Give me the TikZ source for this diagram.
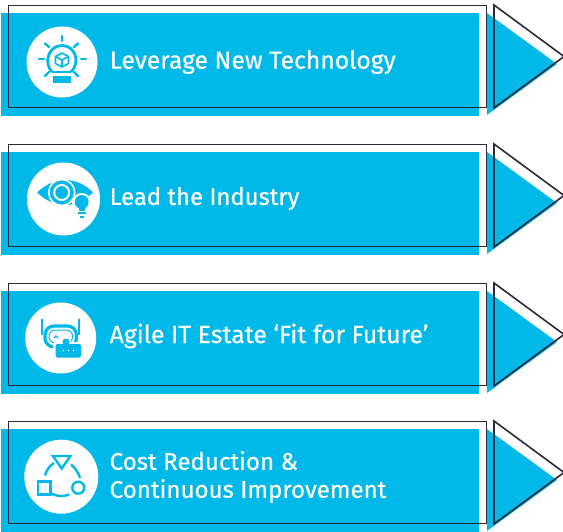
\documentclass[tikz,border=0pt]{standalone}
\usepackage{fontspec}
\setmainfont[FakeBold=0.35]{Fira Sans}
\usepackage{xcolor}
\usetikzlibrary{positioning,calc}
\definecolor{barblue}{HTML}{00B9E8}
\definecolor{framedark}{HTML}{2A2A3A}
\tikzset{
  bar/.style={fill=barblue,inner sep=0pt,minimum width=478pt,minimum height=103pt,anchor=north west},
  frame/.style={draw=framedark,line width=1.6pt,inner sep=0pt,outer sep=0pt,minimum width=478pt,minimum height=102pt,anchor=north west},
  badge/.style={circle,fill=white,inner sep=0pt},
  label/.style={text=white,anchor=west,inner sep=0pt,align=left},
  iconline/.style={draw=barblue,line width=2.4pt},
  iconthin/.style={draw=barblue,line width=1.6pt},
}
\newcommand{\labelsize}[1]{\fontsize{#1}{28}\selectfont}
\begin{document}
\begin{tikzpicture}[x=1pt,y=-1pt]
    \useasboundingbox (0,0) rectangle (563,532);
    % bars, outlines and arrow heads
    \foreach \i/\t in {1/13,2/152,3/291,4/429} {
      \node[bar] (bar\i) at (1,\t) {};
      \node[frame] (frame\i) at (8.5,\t-7.5) {};
      \fill[barblue] (487,\t) -- (487,\t+102) -- (557,\t+51) -- cycle;
      \draw[framedark,line width=1.6pt,line join=miter] (494,\t-8) -- (494,\t+95) -- (564,\t+43.5) -- cycle;
    }
    % badges
    \node[badge,minimum size=71pt] (badge1) at (62,62) {};
    \node[badge,minimum size=73pt] (badge2) at (63.5,199) {};
    \node[badge,minimum size=71pt] (badge3) at (60.7,338) {};
    \node[badge,minimum size=74pt] (badge4) at (61.3,476.7) {};
    % labels
    \node[label,font=\labelsize{24.7}] (text1) at (109.5,62) {Leverage New Technology};
    \node[label,font=\labelsize{23.9}] (text2) at (109.5,198.5) {Lead the Industry};
    \node[label,font=\labelsize{24.8}] (text3) at (109.5,336) {Agile IT Estate ‘Fit for Future’};
    \node[label,font=\labelsize{24.1}] (text4) at (109.5,477) {Cost Reduction \&\\Continuous Improvement};
    % icon 1: bulb and cube
    \draw[iconline,line width=2.8pt] (52,72) .. controls (43,62) and (49,45.5) .. (62,45.5) .. controls (75,45.5) and (81,62) .. (71,72);
    \draw[iconline,line width=2.8pt] (52,72) -- (71,72);
    \fill[barblue] (53,76) rectangle (71,83);
    \foreach \a/\b/\c/\d in {62/36/62/41,39/59/44/59,81/59/86/59,45/43.5/49/47,78/43.5/74/47,45/76/49/72,78/76/74/72} {
      \draw[iconline,line cap=round] (\a,\b) -- (\c,\d);
    }
    \draw[iconthin,line join=round] (62,53) -- (68.5,56.5) -- (68.5,63.5) -- (62,67) -- (55.5,63.5) -- (55.5,56.5) -- cycle;
    \draw[iconthin] (55.5,56.5) -- (62,60) -- (68.5,56.5) (62,60) -- (62,67);
    % icon 2: eye with small bulb
    \fill[barblue] (37,192.5) .. controls (46,184) and (56,180) .. (65,180) .. controls (76,180) and (86,185) .. (93,192.5) .. controls (86,200) and (76,205) .. (65,205) .. controls (56,205) and (46,201) .. cycle;
    \draw[white,line width=1.6pt] (61.7,192.5) circle[radius=13pt];
    \draw[white,line width=2pt] (61.7,192.5) circle[radius=7.5pt];
    \fill[white] (81.7,203) circle[radius=10pt];
    \fill[barblue] (81.7,202) circle[radius=7pt];
    \fill[barblue] (78.5,205) rectangle (85,211);
    \fill[barblue] (77.5,212.5) rectangle (86,214.5);
    \fill[barblue] (79.5,216) rectangle (84,218);
    % icon 3: robot with speech bubble
    \draw[iconline,line width=2pt] (41.7,318.5) -- (41.7,335);
    \draw[iconline,line width=2pt] (79,318.5) -- (79,335);
    \draw[iconline,line width=3.2pt,rounded corners=9pt] (45,326) rectangle (76.5,347);
    \draw[iconthin,line width=1pt,rounded corners=6pt] (49,330) rectangle (72.5,343);
    \draw[iconthin,line width=1.2pt] (54,338) -- (56,336) -- (58,338) (63.5,338) -- (65.5,336) -- (67.5,338);
    \fill[white,rounded corners=3pt] (53,342) rectangle (84,360);
    \fill[white] (66,340) circle[radius=5pt];
    \fill[barblue,rounded corners=2pt] (55.7,344) rectangle (81,357.5);
    \fill[barblue] (66,342) circle[radius=3.5pt];
    \foreach \a in {63.5,68.5,73.5} {\fill[white] (\a,350.5) circle[radius=0.9pt];}
    % icon 4: cycle of shapes
    \draw[iconline,line join=miter] (53,456) -- (70.5,456) -- (61.7,468.5) -- cycle;
    \draw[iconline] (38,481.5) rectangle (50.5,494.5);
    \draw[iconline] (78.3,487.7) circle[radius=6pt];
    \draw[iconline] (45,475.5) .. controls (46.5,470) and (49.5,466) .. (54,463);
    \draw[iconline] (71,464.5) .. controls (75.5,468) and (78.5,473) .. (80,478);
    \draw[iconline] (51.5,493.5) .. controls (57,496.5) and (63,497) .. (69,494.5);
\end{tikzpicture}
\end{document}
